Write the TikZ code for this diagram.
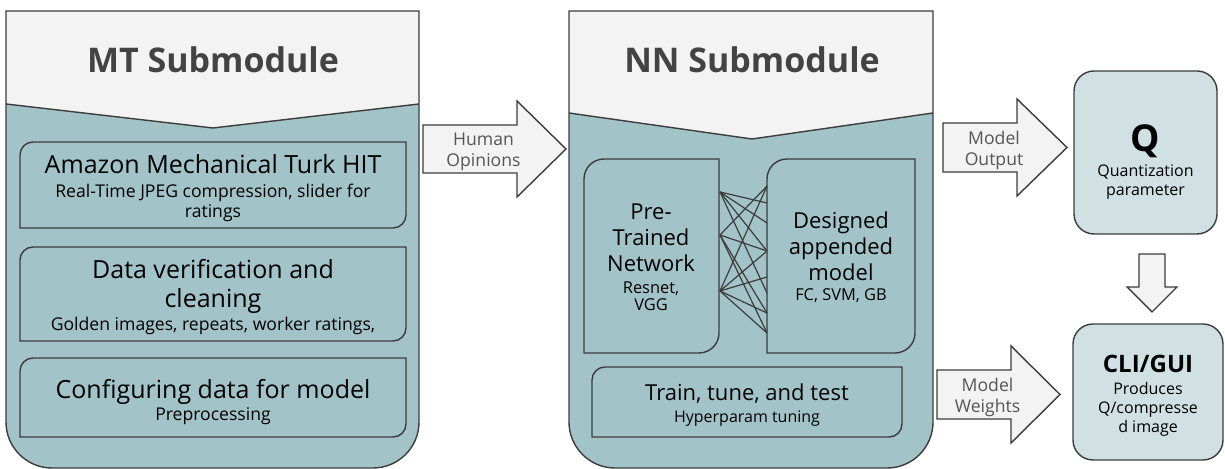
\documentclass[tikz,border=0pt]{standalone}
\usepackage{fontspec}
\setmainfont{Open Sans}
\usetikzlibrary{positioning,calc}

\definecolor{modteal}{HTML}{A2C4C9}
\definecolor{modhead}{HTML}{F3F3F3}
\definecolor{modline}{HTML}{3C3C3C}
\definecolor{modtitle}{HTML}{434343}
\definecolor{outfill}{HTML}{D0E0E3}
\definecolor{arrowgray}{HTML}{555555}

\newcommand{\boxhead}{\fontsize{12.5}{15}\selectfont}
\newcommand{\nnhead}{\fontsize{11}{13}\selectfont}

% box with only the top-left and bottom-right corners rounded
\newcommand{\diagframe}[5]{%
  \draw[frame] (#1,#4) -- (#1,#2-#5) arc[start angle=180,end angle=90,radius=#5]
    -- (#3,#2) -- (#3,#4+#5) arc[start angle=0,end angle=-90,radius=#5] -- cycle;}

% fat right arrow with its label
\newcommand{\fatarrow}[8]{%
  \draw[fatarr] (#2,#5+#6) -- (#3,#5+#6) -- (#3,#5+#7) -- (#4,#5)
    -- (#3,#5-#7) -- (#3,#5-#6) -- (#2,#5-#6) -- cycle;
  \node[arrowlabel] (#1) at ({(#2+#4)/2-11},#5-3) {#8};}

% submodule column: teal body, light header with a notch
\newcommand{\submodule}[7]{%
  \fill[modteal] (#2,#4) -- (#5,#6) -- (#3,#4) -- (#3,47)
    arc[start angle=0,end angle=-90,radius=46] -- (#2+46,1)
    arc[start angle=270,end angle=180,radius=46] -- cycle;
  \fill[modhead] (#2,458) -- (#3,458) -- (#3,#4) -- (#5,#6) -- (#2,#4) -- cycle;
  \draw[frame] (#2,458) -- (#3,458) -- (#3,47)
    arc[start angle=0,end angle=-90,radius=46] -- (#2+46,1)
    arc[start angle=270,end angle=180,radius=46] -- cycle;
  \draw[frame] (#2,#4) -- (#5,#6) -- (#3,#4);
  \node[title] (#1) at (#5,409) {#7};}

\begin{document}
\begin{tikzpicture}[
    x=0.5pt, y=0.5pt,
    frame/.style={draw=modline, line width=0.7pt},
    fatarr/.style={draw=modline, line width=0.7pt, fill=modhead},
    title/.style={font=\fontsize{17}{20}\selectfont\bfseries, text=modtitle},
    arrowlabel/.style={align=center, inner sep=0pt, text=arrowgray, font=\fontsize{8.8}{10.5}\selectfont},
    boxtext/.style={align=center, inner sep=0pt, font=\fontsize{8.8}{10}\selectfont},
    nntext/.style={align=center, inner sep=0pt, font=\fontsize{8.2}{13}\selectfont},
    outbox/.style={draw=modline, line width=0.7pt, fill=outfill, rounded corners=10pt},
    outtext/.style={align=center, inner sep=0pt, font=\fontsize{8}{9.5}\selectfont},
    link/.style={draw=modline, line width=0.6pt},
]
\useasboundingbox (0,0) rectangle (1225,469);

% MT side
\submodule{mt}{6}{419}{365}{213}{341}{MT Submodule}
\diagframe{20}{327}{406}{241}{13}
\diagframe{20}{222}{406}{128}{13}
\diagframe{20}{111}{406}{32}{13}
\node[boxtext] (mturk) at (213,281) {{\boxhead Amazon Mechanical Turk HIT}\\[2pt]Real-Time JPEG compression, slider for\\ratings};
\node[boxtext] (verify) at (213,172) {{\boxhead Data verification and}\\[4.5pt]{\boxhead cleaning}\\[1.5pt]Golden images, repeats, worker ratings,};
\node[boxtext] (config) at (213,67) {{\boxhead Configuring data for model}\\[1pt]Preprocessing};

% NN side
\submodule{nn}{569}{933}{356}{752}{330}{NN Submodule}
\diagframe{584}{310}{719}{116}{20}
\diagframe{767}{310}{915}{116}{20}
\diagframe{592}{102}{902}{32}{13}
\node[nntext] (pretrained) at (651,212) {{\nnhead Pre-}\\{\nnhead Trained}\\{\nnhead Network}\\[-2pt]Resnet,\\[-4.5pt]VGG};
\node[nntext] (appended) at (841,212) {{\nnhead Designed}\\{\nnhead appended}\\{\nnhead model}\\[-3pt]FC, SVM, GB};
\node[nntext, font=\fontsize{8}{8.5}\selectfont] (train) at (747,64) {{\nnhead Train, tune, and test}\\[2.5pt]Hyperparam tuning};

% dense layer between the two networks
\foreach \i/\yy in {1/277,2/234,3/178}
  \coordinate (l\i) at (720,\yy);
\foreach \i/\yy in {1/283,2/266,3/246,4/218,5/192,6/176,7/156,8/136}
  \coordinate (r\i) at (767,\yy);
\foreach \a/\b in {1/2,1/3,1/4,1/6,2/1,2/4,2/7,2/8,3/1,3/4,3/5,3/7,3/8}
  \draw[link] (l\a) -- (r\b);

% outputs
\node[outbox, minimum width=71.5pt, minimum height=81.5pt] (quant) at (1145.5,316.5) {};
\node[outtext] (quantlabel) at ([yshift=-5pt]quant.center)
  {{\fontsize{18.5}{20}\selectfont\bfseries Q}\\[3pt]Quantization\\parameter};
\node[outbox, minimum width=75pt, minimum height=68pt] (cli) at (1148,77) {};
\node[outtext] (clilabel) at ([yshift=-2pt]cli.center)
  {{\fontsize{12}{14}\selectfont\bfseries CLI/GUI}\\[1.5pt]Produces\\Q/compresse\\d image};

\fatarrow{opinions}{423}{517}{566}{320}{24}{48}{Human\\Opinions}
\fatarrow{output}{943}{1017}{1067}{321.5}{24.5}{48.5}{Model\\Output}
\fatarrow{weights}{937}{1011}{1060}{74.5}{24.5}{48.5}{Model\\Weights}
\draw[fatarr] (1139,215) -- (1165,215) -- (1165,182) -- (1177,182) -- (1152,157)
  -- (1127,182) -- (1139,182) -- cycle;
\end{tikzpicture}
\end{document}
